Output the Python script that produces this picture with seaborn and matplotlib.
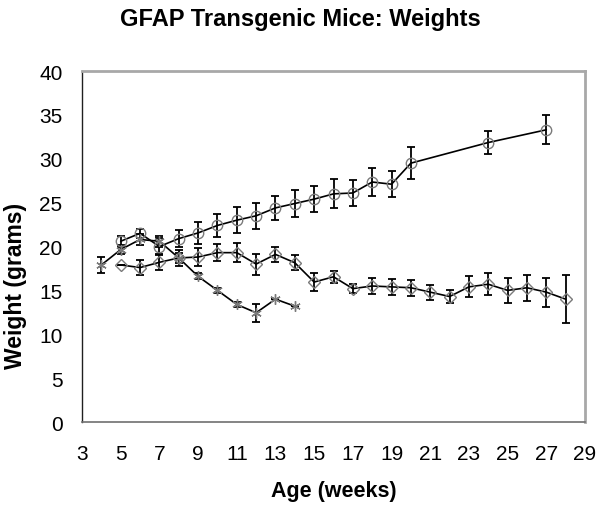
"""GFAP transgenic mice: body weight by age, three groups with error bars."""

import matplotlib

matplotlib.use("Agg")

import matplotlib.pyplot as plt  # noqa: E402
import pandas as pd  # noqa: E402
import seaborn as sns  # noqa: E402

# Group shown with open circles (gains weight)
circle_weeks = [5, 6, 7, 8, 9, 10, 11, 12, 13, 14, 15, 16, 17, 18, 19, 20, 24, 27]
circle_mean = [20.6, 21.5, 20.0, 20.9, 21.55, 22.4, 23.0, 23.5, 24.4, 24.9, 25.4,
               26.0, 26.1, 27.35, 27.1, 29.5, 31.85, 33.3]
circle_err = [0.6, 0.55, 1.0, 1.0, 1.25, 1.3, 1.45, 1.45, 1.4, 1.55, 1.5, 1.65,
              1.5, 1.55, 1.45, 1.85, 1.35, 1.65]

# Group shown with asterisks (declines early)
star_weeks = [4, 5, 6, 7, 8, 9, 10, 11, 12, 13, 14]
star_mean = [17.9, 19.65, 20.8, 20.6, 18.7, 16.6, 15.0, 13.4, 12.45, 14.0, 13.2]
star_err = [0.95, 0.5, 0.6, 0.6, 0.6, 0.35, 0.3, 0.3, 1.05, 0.0, 0.0]

# Group shown with open diamonds
diamond_weeks = [5, 6, 7, 8, 9, 10, 11, 12, 13, 14, 15, 16, 17, 18, 19, 20, 21,
                 22, 23, 24, 25, 26, 27, 28]
diamond_mean = [17.9, 17.6, 18.2, 18.7, 18.8, 19.3, 19.3, 18.0, 19.1, 18.15,
                15.95, 16.55, 15.2, 15.5, 15.4, 15.3, 14.8, 14.3, 15.4, 15.7,
                15.0, 15.3, 14.8, 14.0]
diamond_err = [0.0, 0.85, 0.9, 0.9, 1.0, 0.95, 1.1, 1.2, 0.9, 0.85, 1.05, 0.7,
               0.5, 0.9, 0.9, 0.9, 0.85, 0.75, 1.2, 1.25, 1.4, 1.5, 1.65, 2.7]

x_ticks = list(range(3, 30, 2))
y_ticks = list(range(0, 41, 5))

sns.set_theme(style="white")
plt.rcParams["font.family"] = ["Liberation Sans", "DejaVu Sans"]
plt.rcParams["text.color"] = "black"
plt.rcParams["axes.labelcolor"] = "black"

groups = [
    ("circle", circle_weeks, circle_mean, circle_err, "o"),
    ("star", star_weeks, star_mean, star_err, (6, 2, 0)),
    ("diamond", diamond_weeks, diamond_mean, diamond_err, "D"),
]

fig = plt.figure(figsize=(6.0, 5.06), dpi=100)
ax = fig.add_axes([0.1367, 0.164, 0.8383, 0.6937])

for name, weeks, mean, err, marker in groups:
    df = pd.DataFrame({"week": weeks, "weight": mean, "err": err})
    sns.lineplot(data=df, x="week", y="weight", ax=ax, color="black",
                 linewidth=1.2, zorder=2)
    ax.errorbar(df["week"], df["weight"], yerr=df["err"], fmt="none",
                ecolor="black", elinewidth=1.3, capsize=3.2, capthick=1.3,
                zorder=3)
    ms = 6.0 if marker == "D" else 7.5
    ax.plot(df["week"], df["weight"], linestyle="none", marker=marker,
            markersize=ms, markerfacecolor="none", markeredgecolor="#7a7a7a",
            markeredgewidth=1.0, zorder=4)

ax.set_xlim(3, 29)
ax.set_ylim(0, 40)
ax.set_xticks(x_ticks)
ax.set_yticks(y_ticks)
ax.tick_params(axis="both", labelsize=15, direction="out", length=6,
               width=1.0, color="#606060", labelcolor="black", pad=8)
ax.tick_params(axis="x", pad=10)

ax.set_xlabel("Age (weeks)", fontsize=15.5, fontweight="bold", labelpad=12)
ax.set_ylabel("Weight (grams)", fontsize=16.5, fontweight="bold")
# the y label sits below the middle of the axis in the original chart
ax.yaxis.set_label_coords(-0.11, 0.39)
fig.suptitle("GFAP Transgenic Mice: Weights", fontsize=17,
             fontweight="bold", y=0.985)

ax.spines["left"].set_color("#202020")
ax.spines["bottom"].set_color("#707070")
ax.spines["top"].set_color("#a8a8a8")
ax.spines["right"].set_color("#a8a8a8")
ax.spines["top"].set_linewidth(2.0)
ax.spines["right"].set_linewidth(2.0)
ax.spines["left"].set_linewidth(1.0)
ax.spines["bottom"].set_linewidth(1.2)
ax.grid(False)

fig.savefig("out.png", dpi=100)
